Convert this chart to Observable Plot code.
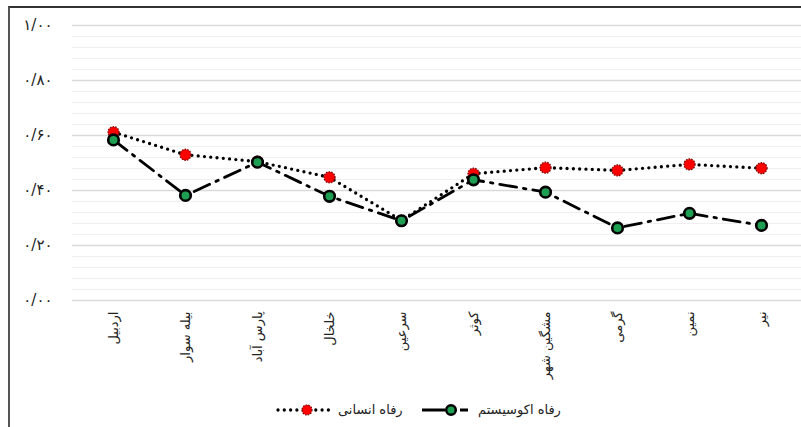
<!DOCTYPE html>
<html><head><meta charset="utf-8">
<script src="https://cdn.jsdelivr.net/npm/d3@7"></script>
<script src="https://cdn.jsdelivr.net/npm/@observablehq/plot@0.6"></script>
<style>
body{margin:0;background:#fff;}
#wrap{position:relative;width:801px;height:427px;overflow:hidden;font-family:"DejaVu Sans",sans-serif;}
#frame{position:absolute;left:8px;top:6px;width:900px;height:500px;border-left:2px solid #555;border-top:2px solid #333;}
#chart{position:absolute;left:0;top:0;}
.leg{position:absolute;font-size:13px;color:#222;white-space:nowrap;}
</style></head><body>
<div id="wrap"><div id="frame"></div><div id="chart"></div><div id="legend"></div></div>
<script>
const counties = ["اردبیل","بیله سوار","پارس آباد","خلخال","سرعین","کوثر","مشگین شهر","گرمی","نمین","نیر"];
const humanWelfare = [0.612,0.530,0.505,0.448,0.291,0.461,0.483,0.473,0.495,0.481];
const ecoWelfare   = [0.584,0.382,0.503,0.379,0.290,0.439,0.394,0.264,0.317,0.273];
const yTicks = [0,0.2,0.4,0.6,0.8,1.0];
const yTickLabels = ["۰/۰۰","۰/۲۰","۰/۴۰","۰/۶۰","۰/۸۰","۱/۰۰"];
const minorTicks = [0.04,0.08,0.12,0.16,0.24,0.28,0.32,0.36,0.44,0.48,0.52,0.56,0.64,0.68,0.72,0.76,0.84,0.88,0.92,0.96];
const seriesNames = ["رفاه انسانی","رفاه اکوسیستم"];

const human = counties.map((c,i)=>({county:c, value:humanWelfare[i]}));
const eco = counties.map((c,i)=>({county:c, value:ecoWelfare[i]}));

const plot = Plot.plot({
  width:801, height:392, marginLeft:72, marginRight:0, marginTop:25, marginBottom:92,
  x:{type:"point", domain:counties, padding:0.5, label:null},
  y:{domain:[0,1], label:null},
  style:{fontFamily:"DejaVu Sans, sans-serif", fontSize:"13px", color:"#222", background:"transparent"},
  marks:[
    Plot.ruleY(minorTicks,{stroke:"#efefef", strokeWidth:1}),
    Plot.ruleY(yTicks,{stroke:"#d9d9d9", strokeWidth:1.4}),
    Plot.axisX({tickRotate:-90, tickSize:0, tickPadding:11, fontSize:13, label:null}),
    Plot.axisY({ticks:yTicks, tickFormat:d=>yTickLabels[yTicks.findIndex(t=>Math.abs(t-d)<1e-9)], tickSize:0, tickPadding:20, fontSize:15, label:null}),
    Plot.lineY(human,{x:"county", y:"value", stroke:"#000", strokeWidth:3.3, strokeDasharray:"0 6.3", strokeLinecap:"round"}),
    Plot.dot(human,{x:"county", y:"value", r:5.5, fill:"#ff0000", stroke:"#7a0000", strokeWidth:1.3, strokeDasharray:"1.5 1.2"}),
    Plot.lineY(eco,{x:"county", y:"value", stroke:"#000", strokeWidth:2.8, strokeDasharray:"17 7 2.5 7"}),
    Plot.dot(eco,{x:"county", y:"value", r:5.3, fill:"#1e9e52", stroke:"#000", strokeWidth:2.6})
  ]
});
document.getElementById("chart").appendChild(plot);

const leg = document.getElementById("legend");
leg.innerHTML = `
<svg class="leg" style="left:276px;top:402px" width="60" height="16">
  <line x1="2" y1="8" x2="58" y2="8" stroke="#000" stroke-width="3.3" stroke-dasharray="0 6.3" stroke-linecap="round"/>
  <circle cx="31" cy="8" r="5" fill="#ff0000" stroke="#7a0000" stroke-width="1.2" stroke-dasharray="1.5 1.2"/>
</svg>
<span class="leg" style="left:338px;top:402px;direction:rtl">${seriesNames[0]}</span>
<svg class="leg" style="left:420px;top:402px" width="50" height="16">
  <line x1="2" y1="8" x2="48" y2="8" stroke="#000" stroke-width="2.8" stroke-dasharray="23 15 8"/>
  <circle cx="31" cy="8" r="4.8" fill="#1e9e52" stroke="#000" stroke-width="2.5"/>
</svg>
<span class="leg" style="left:478px;top:402px;direction:rtl">${seriesNames[1]}</span>`;
</script>
</body></html>
